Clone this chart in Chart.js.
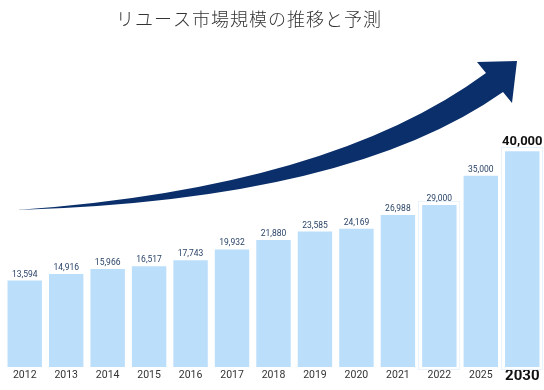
<!DOCTYPE html>
<html>
<head>
<meta charset="utf-8">
<script src="https://cdn.jsdelivr.net/npm/chart.js@4.4.1/dist/chart.umd.min.js"></script>
<style>
  html, body { margin: 0; padding: 0; background: #ffffff; }
  #wrap { width: 544px; height: 390px; position: relative; }
</style>
</head>
<body>
<div id="wrap"><canvas id="c" width="544" height="390"></canvas></div>
<script>
// ---- data ----
const titleText = "リユース市場規模の推移と予測";
const years = ["2012","2013","2014","2015","2016","2017","2018","2019","2020","2021","2022","2025","2030"];
const marketSize = [13594,14916,15966,16517,17743,19932,21880,23585,24169,26988,29000,35000,40000];
const highlightIndex = 12;
const framedIndexes = [10, 12];

// ---- styles ----
const barColor = "#bbdefb";
const arrowColor = "#0a2f6a";
const valueColor = "#2b4468";
const yMin = -4064;
const yMax = 64755;

const decoPlugin = {
  id: "deco",
  beforeDatasetsDraw(chart) {
    const ctx = chart.ctx;
    const meta = chart.getDatasetMeta(0);
    framedIndexes.forEach((i) => {
      const bar = meta.data[i];
      if (!bar) return;
      const w = bar.width;
      ctx.save();
      ctx.strokeStyle = "#e8f3fe";
      ctx.lineWidth = 1;
      ctx.strokeRect(Math.round(bar.x - w / 2 - 4) + 0.5, Math.round(bar.y - 4) + 0.5,
                     Math.round(w + 7), Math.round(bar.base - bar.y + 6));
      ctx.restore();
    });
  },
  afterDatasetsDraw(chart) {
    const ctx = chart.ctx;
    // value labels above bars
    const meta = chart.getDatasetMeta(0);
    meta.data.forEach((bar, i) => {
      const v = chart.data.datasets[0].data[i];
      ctx.save();
      ctx.textAlign = "center";
      ctx.textBaseline = "alphabetic";
      if (i === highlightIndex) {
        ctx.font = "bold 13px Roboto";
        ctx.fillStyle = "#111111";
        ctx.fillText(v.toLocaleString("en-US"), bar.x, bar.y - 6);
      } else {
        ctx.font = "8.5px Roboto";
        ctx.fillStyle = valueColor;
        ctx.fillText(v.toLocaleString("en-US"), bar.x, bar.y - 4);
      }
      ctx.restore();
    });
    // title
    ctx.save();
    ctx.font = "300 18px 'Noto Sans CJK JP'";
    ctx.fillStyle = "#333333";
    ctx.textAlign = "center";
    ctx.textBaseline = "middle";
    try { ctx.letterSpacing = "1px"; } catch (e) {}
    ctx.fillText(titleText, 249, 19);
    ctx.restore();
    // growth arrow (decoration)
    ctx.save();
    ctx.fillStyle = arrowColor;
    ctx.beginPath();
    ctx.moveTo(17, 210);
    ctx.quadraticCurveTo(330, 188, 486, 73);
    ctx.lineTo(477, 62);
    ctx.lineTo(517, 61);
    ctx.lineTo(512, 103);
    ctx.lineTo(503, 92);
    ctx.quadraticCurveTo(350, 200, 17, 210);
    ctx.closePath();
    ctx.fill();
    ctx.restore();
  }
};

new Chart(document.getElementById("c"), {
  type: "bar",
  data: {
    labels: years,
    datasets: [{
      data: marketSize,
      base: yMin,
      backgroundColor: barColor,
      borderWidth: 0,
      barPercentage: 1.0,
      categoryPercentage: 0.83
    }]
  },
  options: {
    responsive: false,
    animation: false,
    devicePixelRatio: 1,
    layout: { padding: { left: 4, right: 1, top: 30, bottom: 0 } },
    plugins: {
      legend: { display: false },
      title: { display: false },
      tooltip: { enabled: false }
    },
    scales: {
      x: {
        grid: { display: false, drawTicks: false },
        border: { display: false },
        ticks: {
          padding: 2,
          color: (c) => c.index === highlightIndex ? "#111111" : "#333333",
          font: (c) => c.index === highlightIndex
            ? { family: "Roboto", size: 15, weight: "bold", lineHeight: 1.0 }
            : { family: "Roboto", size: 10.5, lineHeight: 1.2 }
        },
        afterFit: (scale) => { scale.height = 23; }
      },
      y: {
        display: false,
        min: yMin,
        max: yMax
      }
    }
  },
  plugins: [decoPlugin]
});
</script>
</body>
</html>
